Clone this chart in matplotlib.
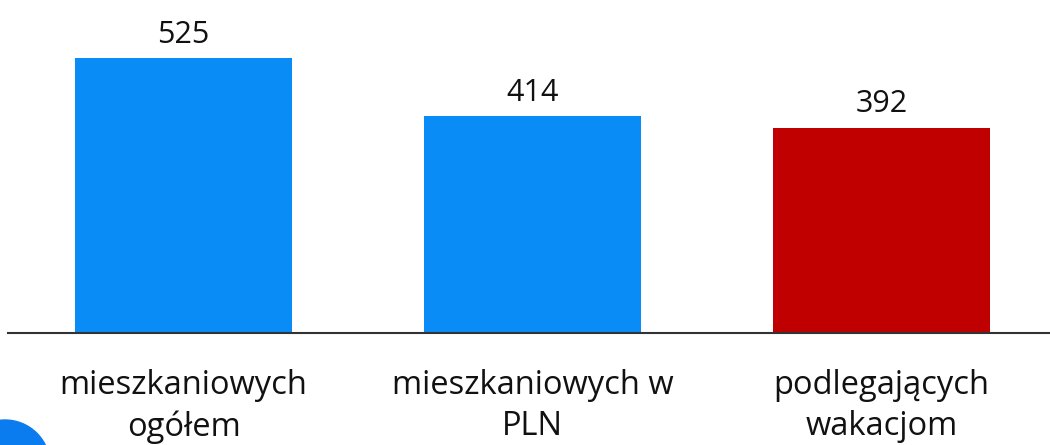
import matplotlib.pyplot as plt
from matplotlib.patches import Ellipse

categories = ["mieszkaniowych\nogółem", "mieszkaniowych w\nPLN", "podlegających\nwakacjom"]
values = [525, 414, 392]
colors = ["#0A8CF7", "#0A8CF7", "#C00000"]

plt.rcParams['font.family'] = ['Open Sans', 'DejaVu Sans']

fig = plt.figure(figsize=(10.5, 4.45), dpi=100)
ax = fig.add_axes([8 / 1050, 112 / 445, 1 - 8 / 1050, 333 / 445])

x = range(len(values))
bars = ax.bar(x, values, width=0.622, color=colors)
ax.set_xlim(-0.503, 2.483)
ax.set_ylim(0, 636)

for b, v in zip(bars, values):
    ax.annotate(str(v), (b.get_x() + b.get_width() / 2, v), xytext=(0, 6),
                textcoords='offset points', ha='center', va='bottom', fontsize=22, color='#111111')

for xi, lab in zip(x, categories):
    ax.annotate(lab, (xi, 0), xytext=(0, -26), textcoords='offset points',
                ha='center', va='top', fontsize=23.5, color='#111111', linespacing=1.33,
                annotation_clip=False)

for s in ['top', 'right', 'left']:
    ax.spines[s].set_visible(False)
ax.spines['bottom'].set_color('#333333')
ax.spines['bottom'].set_linewidth(1.5)
ax.set_xticks([])
ax.set_yticks([])

# partial circle decoration at bottom-left
fig.patches.append(Ellipse((5 / 1050, -20 / 445), 90 / 1050, 90 / 445,
                           transform=fig.transFigure, color='#0A7CF0', zorder=5))

fig.savefig('out.png', dpi=100)
